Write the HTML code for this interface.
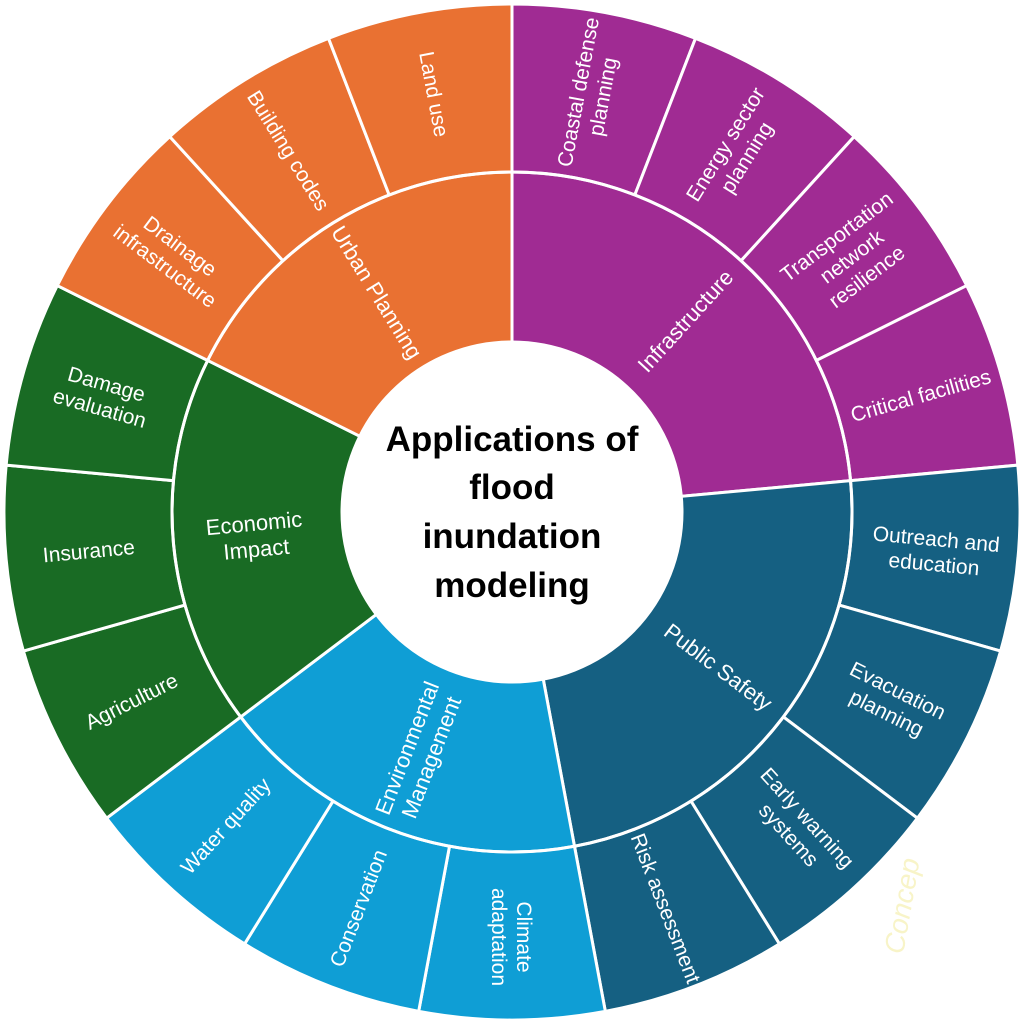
<!DOCTYPE html>
<html><head><meta charset="utf-8"><style>
html,body{margin:0;padding:0;background:#fff;}
svg{display:block;}
text{font-family:"Liberation Sans",sans-serif;}
.l{fill:#fff;font-size:21px;text-anchor:middle;}
.m{fill:#fff;font-size:22px;text-anchor:middle;}
</style></head><body>
<svg width="1024" height="1024" viewBox="0 0 1024 1024" xmlns="http://www.w3.org/2000/svg">
<defs>
<path id="leaf" d="M0,0 L0,-508 A508,508 0 0 1 183.5,-473.7 Z"/>
<path id="m4" d="M0,0 L0,-340 A340,340 0 0 1 338.55,-31.37 Z"/>
<path id="m3" d="M0,0 L0,-340 A340,340 0 0 1 304.3,-151.5 Z"/>
</defs>
<g transform="translate(512,512)" stroke="#fff" stroke-width="3" stroke-linejoin="round">
<g fill="#A02B93">
<use href="#leaf" transform="rotate(0)"/><use href="#leaf" transform="rotate(21.176)"/><use href="#leaf" transform="rotate(42.353)"/><use href="#leaf" transform="rotate(63.529)"/>
</g>
<g fill="#156082">
<use href="#leaf" transform="rotate(84.706)"/><use href="#leaf" transform="rotate(105.882)"/><use href="#leaf" transform="rotate(127.059)"/><use href="#leaf" transform="rotate(148.235)"/>
</g>
<g fill="#0F9ED5">
<use href="#leaf" transform="rotate(169.412)"/><use href="#leaf" transform="rotate(190.588)"/><use href="#leaf" transform="rotate(211.765)"/>
</g>
<g fill="#196B24">
<use href="#leaf" transform="rotate(232.941)"/><use href="#leaf" transform="rotate(254.118)"/><use href="#leaf" transform="rotate(275.294)"/>
</g>
<g fill="#E97132">
<use href="#leaf" transform="rotate(296.471)"/><use href="#leaf" transform="rotate(317.647)"/><use href="#leaf" transform="rotate(338.824)"/>
</g>
<use href="#m4" fill="#A02B93" transform="rotate(0)"/>
<use href="#m4" fill="#156082" transform="rotate(84.706)"/>
<use href="#m3" fill="#0F9ED5" transform="rotate(169.412)"/>
<use href="#m3" fill="#196B24" transform="rotate(232.941)"/>
<use href="#m3" fill="#E97132" transform="rotate(296.471)"/>
<circle r="340" fill="none"/>
<circle r="170" fill="#fff"/>

<g stroke="none">
<g transform="rotate(10.59) translate(0,-425) rotate(-10.59) rotate(-79.41)"><text class="l"><tspan x="0" dy="-5">Coastal defense</tspan><tspan x="0" dy="25">planning</tspan></text></g>
<g transform="rotate(31.76) translate(0,-425) rotate(-31.76) rotate(-58.24)"><text class="l"><tspan x="0" dy="-5">Energy sector</tspan><tspan x="0" dy="25">planning</tspan></text></g>
<g transform="rotate(52.94) translate(0,-425) rotate(-52.94) rotate(-37.06)"><text class="l"><tspan x="0" dy="-17">Transportation</tspan><tspan x="0" dy="25">network</tspan><tspan x="0" dy="25">resilience</tspan></text></g>
<g transform="rotate(74.12) translate(0,-425) rotate(-74.12) rotate(-15.88)"><text class="l"><tspan x="0" dy="7">Critical facilities</tspan></text></g>
<g transform="rotate(95.29) translate(0,-425) rotate(-95.29) rotate(5.29)"><text class="l"><tspan x="0" dy="-5">Outreach and</tspan><tspan x="0" dy="25">education</tspan></text></g>
<g transform="rotate(116.47) translate(0,-425) rotate(-116.47) rotate(26.47)"><text class="l"><tspan x="0" dy="-5">Evacuation</tspan><tspan x="0" dy="25">planning</tspan></text></g>
<g transform="rotate(137.65) translate(0,-425) rotate(-137.65) rotate(47.65)"><text class="l"><tspan x="0" dy="-5">Early warning</tspan><tspan x="0" dy="25">systems</tspan></text></g>
<g transform="rotate(158.82) translate(0,-425) rotate(-158.82) rotate(68.82)"><text class="l"><tspan x="0" dy="7">Risk assessment</tspan></text></g>
<g transform="rotate(180) translate(0,-425) rotate(-180) rotate(90)"><text class="l"><tspan x="0" dy="-5">Climate</tspan><tspan x="0" dy="25">adaptation</tspan></text></g>
<g transform="rotate(201.18) translate(0,-425) rotate(-201.18) rotate(-68.82)"><text class="l"><tspan x="0" dy="7">Conservation</tspan></text></g>
<g transform="rotate(222.35) translate(0,-425) rotate(-222.35) rotate(-47.65)"><text class="l"><tspan x="0" dy="7">Water quality</tspan></text></g>
<g transform="rotate(243.53) translate(0,-425) rotate(-243.53) rotate(-26.47)"><text class="l"><tspan x="0" dy="7">Agriculture</tspan></text></g>
<g transform="rotate(264.71) translate(0,-425) rotate(-264.71) rotate(-5.29)"><text class="l"><tspan x="0" dy="7">Insurance</tspan></text></g>
<g transform="rotate(285.88) translate(0,-425) rotate(-285.88) rotate(15.88)"><text class="l"><tspan x="0" dy="-5">Damage</tspan><tspan x="0" dy="25">evaluation</tspan></text></g>
<g transform="rotate(307.06) translate(0,-425) rotate(-307.06) rotate(37.06)"><text class="l"><tspan x="0" dy="-5">Drainage</tspan><tspan x="0" dy="25">infrastructure</tspan></text></g>
<g transform="rotate(328.24) translate(0,-425) rotate(-328.24) rotate(58.24)"><text class="l"><tspan x="0" dy="7">Building codes</tspan></text></g>
<g transform="rotate(349.41) translate(0,-425) rotate(-349.41) rotate(79.41)"><text class="l"><tspan x="0" dy="7">Land use</tspan></text></g>

<g transform="rotate(42.35) translate(0,-258) rotate(-42.35) rotate(-47.65)"><text class="m"><tspan x="0" dy="7">Infrastructure</tspan></text></g>
<g transform="rotate(127.06) translate(0,-258) rotate(-127.06) rotate(37.06)"><text class="m"><tspan x="0" dy="7">Public Safety</tspan></text></g>
<g transform="rotate(201.18) translate(0,-258) rotate(-201.18) rotate(-68.82)"><text class="m"><tspan x="0" dy="-5">Environmental</tspan><tspan x="0" dy="26">Management</tspan></text></g>
<g transform="rotate(264.71) translate(0,-258) rotate(-264.71) rotate(-5.29)"><text class="m"><tspan x="0" dy="-5">Economic</tspan><tspan x="0" dy="26">Impact</tspan></text></g>
<g transform="rotate(328.24) translate(0,-258) rotate(-328.24) rotate(58.24)"><text class="m"><tspan x="0" dy="7">Urban Planning</tspan></text></g>
</g>
</g>
<g font-family="Liberation Sans, sans-serif" font-weight="bold" font-size="35" fill="#000" text-anchor="middle">
<text x="512" y="451">Applications of</text>
<text x="512" y="499">flood</text>
<text x="512" y="548">inundation</text>
<text x="512" y="597">modeling</text>
</g>
<text x="0" y="0" transform="translate(903,955) rotate(-80)" font-family="Liberation Serif, serif" font-style="italic" font-size="28" fill="#f8f4c8">Concep</text>
</svg>
</body></html>
